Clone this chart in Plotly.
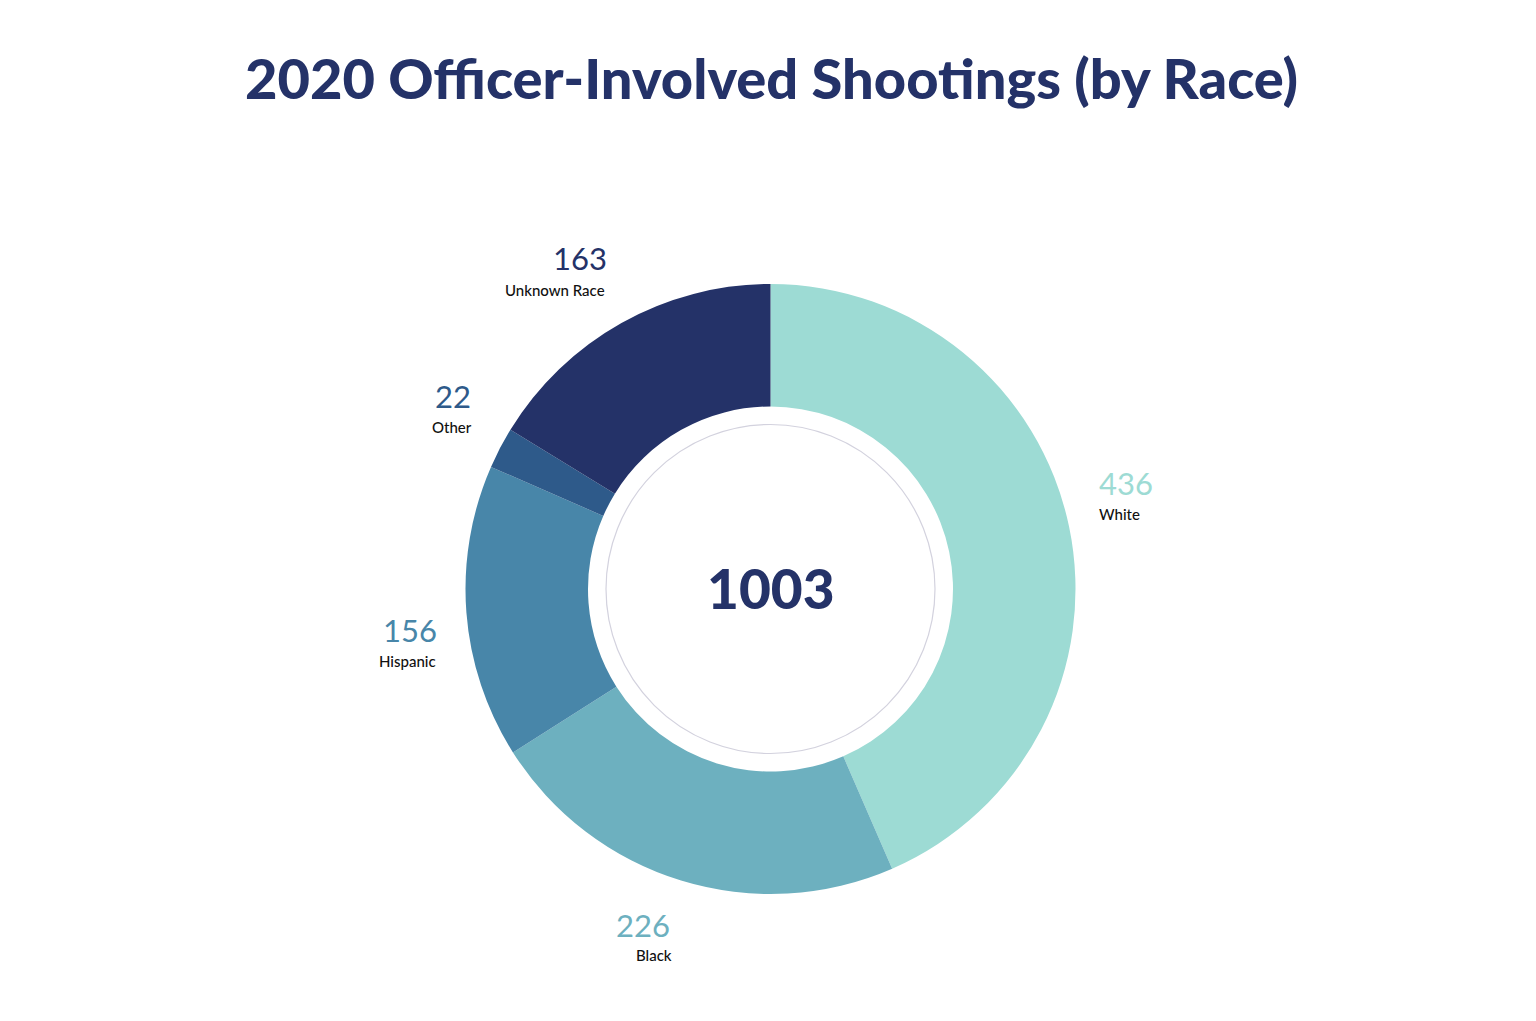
import plotly.graph_objects as go

# ---- data ----
categories = ["White", "Black", "Hispanic", "Other", "Unknown Race"]
counts = [436, 226, 156, 22, 163]
title_text = "2020 Officer-Involved Shootings (by Race)"

# ---- styles ----
slice_colors = ["#9DDBD4", "#6DB0BF", "#4886A9", "#2E5A8A", "#243268"]
navy = "#243268"
W, H = 1536, 1021
cx, cy = 770.5, 589.0     # pixel centre of the donut (from top)
r_out = 305.0
r_in = 182.5
r_ring = 164.5

# label anchor positions in pixels (x centre, y centre of number), per category
label_pos = {
    "White": (1126, 483),
    "Black": (643, 925),
    "Hispanic": (410, 630),
    "Other": (453, 396),
    "Unknown Race": (580, 258),
}
name_offset = {
    "White": (-7, 31),
    "Black": (11, 30),
    "Hispanic": (-3, 31),
    "Other": (-1, 31),
    "Unknown Race": (-25, 32),
}

def px(x):
    return x / W

def py(y):
    return (H - y) / H

fig = go.Figure(
    go.Pie(
        labels=categories,
        values=counts,
        sort=False,
        direction="clockwise",
        rotation=0,
        hole=r_in / r_out,
        marker=dict(colors=slice_colors, line=dict(width=0)),
        textinfo="none",
        hoverinfo="label+value",
        domain=dict(x=[px(cx - r_out), px(cx + r_out)],
                    y=[py(cy + r_out), py(cy - r_out)]),
        showlegend=False,
    )
)

annotations = [
    dict(text=title_text, x=px(771), y=py(77), xref="paper", yref="paper",
         xanchor="center", yanchor="middle", showarrow=False,
         font=dict(family="Lato, Open Sans, sans-serif", size=56, weight=900, color=navy)),
    dict(text=str(sum(counts)), x=px(cx), y=py(588), xref="paper", yref="paper",
         xanchor="center", yanchor="middle", showarrow=False,
         font=dict(family="Lato, Open Sans, sans-serif", size=55, weight=900, color=navy)),
]

for cat, val, col in zip(categories, counts, slice_colors):
    lx, ly = label_pos[cat]
    dx, dy = name_offset[cat]
    annotations.append(dict(text=str(val), x=px(lx), y=py(ly), xref="paper", yref="paper",
                            xanchor="center", yanchor="middle", showarrow=False,
                            font=dict(family="Lato, sans-serif", size=31, color=col)))
    annotations.append(dict(text=cat, x=px(lx + dx), y=py(ly + dy), xref="paper", yref="paper",
                            xanchor="center", yanchor="middle", showarrow=False,
                            font=dict(family="Lato, sans-serif", size=15, weight=500, color="#111111")))

shapes = [
    dict(type="circle", xref="paper", yref="paper",
         x0=px(cx - r_ring), x1=px(cx + r_ring),
         y0=py(cy + r_ring), y1=py(cy - r_ring),
         line=dict(color="#D3D2DE", width=1.2), fillcolor="rgba(0,0,0,0)"),
]

fig.update_layout(
    width=W, height=H,
    margin=dict(l=0, r=0, t=0, b=0),
    paper_bgcolor="white",
    plot_bgcolor="white",
    annotations=annotations,
    shapes=shapes,
)

fig.write_html("out.html")
